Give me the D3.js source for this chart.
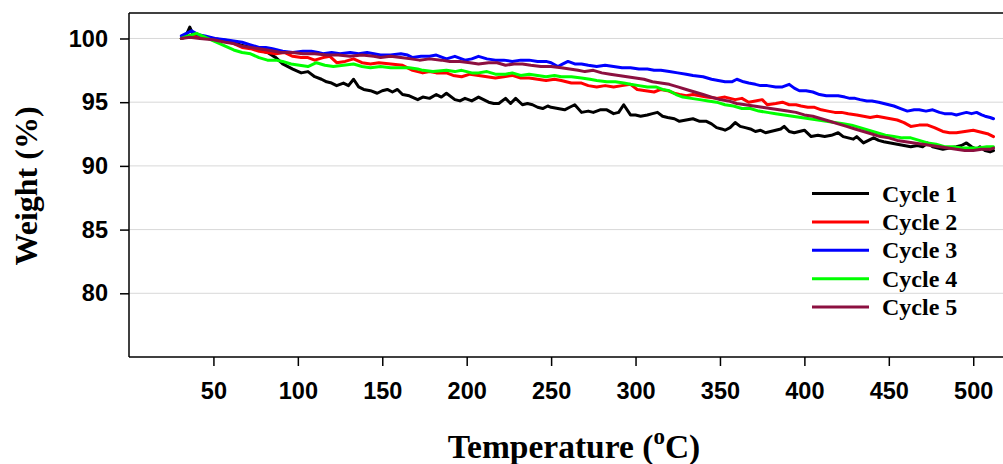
<!DOCTYPE html>
<html>
<head>
<meta charset="utf-8">
<script src="https://cdn.jsdelivr.net/npm/d3@7"></script>
<style>
  html, body { margin: 0; padding: 0; background: #fff; }
  svg { display: block; }
</style>
</head>
<body>
<svg id="chart" width="1003" height="464"></svg>
<script>
// ---- data (temperature °C, weight %) ----
const seriesNames = ["Cycle 1", "Cycle 2", "Cycle 3", "Cycle 4", "Cycle 5"];
const seriesColors = ["#000000", "#ff0000", "#0000ff", "#00ff00", "#8c1040"];
const xTicks = [50, 100, 150, 200, 250, 300, 350, 400, 450, 500];
const yTicks = [80, 85, 90, 95, 100];

const cycle1 = [[31,100.0],[34,100.3],[36,100.9],[38,100.3],[42,100.2],[48,100.0],[55,99.9],[60,99.8],[66,99.5],[72,99.3],[77,99.1],[82,98.9],[87,98.5],[91,98.0],[97,97.6],[102,97.3],[106,97.4],[110,97.0],[114,96.8],[117,96.6],[120,96.5],[123,96.3],[127,96.5],[130,96.3],[133,96.8],[136,96.2],[139,96.0],[143,95.9],[147,95.7],[150,95.9],[153,96.0],[156,95.8],[159,96.0],[162,95.6],[166,95.5],[171,95.2],[174,95.4],[178,95.3],[182,95.6],[185,95.4],[188,95.7],[193,95.2],[196,95.1],[199,95.3],[203,95.1],[207,95.4],[210,95.2],[213,95.0],[216,94.9],[219,94.9],[223,95.3],[226,94.9],[229,95.3],[233,94.8],[236,94.9],[239,94.8],[242,94.6],[245,94.5],[248,94.7],[250,94.6],[254,94.5],[258,94.4],[261,94.6],[264,94.8],[268,94.2],[272,94.3],[275,94.2],[279,94.4],[283,94.4],[287,94.1],[290,94.2],[293,94.8],[297,94.0],[300,94.0],[303,93.9],[307,94.0],[310,94.1],[313,94.2],[316,93.9],[319,93.8],[323,93.7],[326,93.5],[330,93.6],[334,93.7],[338,93.5],[342,93.5],[345,93.3],[348,93.0],[351,92.9],[353,92.8],[356,93.0],[359,93.4],[362,93.1],[365,93.0],[368,92.9],[371,92.7],[374,92.8],[377,92.6],[380,92.7],[383,92.8],[386,92.9],[388,93.1],[391,92.7],[394,92.6],[397,92.7],[400,92.8],[404,92.3],[408,92.4],[412,92.3],[416,92.4],[420,92.6],[423,92.3],[426,92.2],[429,92.1],[431,92.3],[435,91.8],[438,92.0],[441,92.2],[444,92.0],[447,91.9],[451,91.8],[455,91.7],[459,91.6],[463,91.5],[467,91.6],[470,91.5],[473,91.8],[476,91.5],[479,91.4],[482,91.3],[486,91.4],[490,91.5],[493,91.6],[496,91.8],[499,91.5],[502,91.3],[504,91.5],[507,91.2],[510,91.1],[512,91.2]];

const cycle2 = [[31,100.0],[36,100.2],[42,100.1],[50,100.0],[57,99.8],[62,99.6],[67,99.3],[72,99.2],[77,99.0],[82,98.9],[87,98.8],[92,98.9],[97,98.6],[102,98.5],[106,98.5],[110,98.3],[115,98.5],[119,98.6],[123,98.1],[128,98.2],[133,98.4],[138,98.1],[143,98.0],[148,98.1],[155,98.0],[162,97.9],[165,97.7],[168,97.5],[174,97.3],[178,97.4],[182,97.3],[188,97.3],[192,97.1],[197,97.0],[202,97.2],[207,97.1],[212,97.0],[217,96.9],[222,97.0],[227,97.1],[232,96.9],[237,96.9],[242,96.8],[247,96.7],[252,96.8],[256,96.7],[262,96.5],[268,96.5],[272,96.3],[277,96.2],[282,96.3],[287,96.2],[292,96.3],[297,96.4],[301,96.0],[306,95.9],[311,95.8],[315,96.0],[319,95.9],[323,95.7],[326,95.6],[330,95.5],[334,95.6],[338,95.5],[342,95.4],[348,95.3],[353,95.4],[359,95.2],[363,95.3],[367,95.0],[371,95.1],[375,95.2],[378,94.8],[383,94.9],[387,95.0],[391,94.8],[395,94.8],[398,94.7],[402,94.6],[406,94.6],[410,94.4],[414,94.3],[418,94.2],[422,94.2],[426,94.1],[431,94.0],[435,93.9],[439,93.8],[443,93.9],[447,93.8],[451,93.7],[455,93.6],[459,93.4],[463,93.1],[468,93.2],[473,93.2],[477,93.0],[482,92.7],[486,92.6],[490,92.6],[495,92.7],[500,92.8],[503,92.7],[506,92.6],[509,92.5],[512,92.3]];

const cycle3 = [[31,100.2],[34,100.4],[37,100.6],[41,100.3],[45,100.2],[51,100.0],[57,99.9],[62,99.8],[67,99.7],[72,99.5],[77,99.3],[81,99.3],[85,99.2],[91,99.0],[97,98.9],[103,99.0],[108,99.0],[112,98.9],[115,98.8],[120,98.9],[125,98.8],[131,98.9],[136,98.8],[141,98.9],[145,98.8],[149,98.7],[155,98.7],[161,98.8],[165,98.7],[168,98.5],[173,98.6],[178,98.6],[182,98.7],[188,98.4],[193,98.6],[199,98.3],[203,98.4],[207,98.6],[212,98.4],[217,98.3],[222,98.3],[227,98.2],[232,98.3],[237,98.3],[242,98.2],[247,98.2],[250,98.1],[254,97.8],[257,98.0],[260,98.2],[264,98.0],[268,98.0],[272,97.9],[277,97.8],[282,97.9],[287,97.8],[292,97.7],[297,97.7],[302,97.6],[307,97.6],[311,97.5],[315,97.5],[320,97.4],[325,97.3],[330,97.2],[334,97.1],[340,97.0],[345,96.8],[349,96.7],[353,96.6],[357,96.6],[360,96.8],[364,96.6],[367,96.5],[371,96.4],[374,96.3],[378,96.3],[383,96.2],[387,96.2],[391,96.4],[394,96.1],[397,95.9],[401,95.9],[405,95.8],[409,95.6],[413,95.5],[417,95.5],[420,95.5],[424,95.4],[427,95.3],[430,95.3],[433,95.2],[437,95.1],[440,95.1],[444,95.0],[447,94.9],[450,94.8],[453,94.7],[457,94.5],[461,94.3],[465,94.4],[468,94.4],[472,94.3],[476,94.4],[480,94.2],[483,94.1],[487,94.1],[490,94.0],[493,94.1],[496,94.2],[499,94.1],[502,94.2],[505,94.0],[507,93.9],[510,93.8],[512,93.7]];

const cycle4 = [[31,100.0],[35,100.2],[40,100.4],[45,100.1],[52,99.7],[57,99.4],[62,99.1],[67,98.9],[72,98.8],[77,98.5],[82,98.3],[87,98.3],[91,98.2],[96,98.0],[101,97.9],[106,97.8],[111,98.1],[116,97.9],[121,97.8],[127,97.9],[133,98.0],[138,97.8],[143,97.7],[149,97.8],[155,97.7],[161,97.7],[166,97.7],[171,97.6],[174,97.5],[180,97.4],[188,97.5],[193,97.4],[197,97.5],[203,97.3],[207,97.3],[212,97.4],[217,97.2],[223,97.2],[227,97.3],[232,97.1],[237,97.2],[242,97.1],[247,97.0],[252,97.1],[256,97.0],[262,97.0],[268,96.9],[273,96.8],[277,96.7],[283,96.6],[288,96.6],[293,96.5],[297,96.4],[302,96.3],[307,96.2],[312,96.2],[316,96.0],[320,95.9],[324,95.6],[328,95.4],[333,95.3],[338,95.2],[343,95.1],[348,95.0],[353,94.8],[358,94.7],[363,94.5],[368,94.5],[373,94.3],[378,94.2],[383,94.1],[388,94.0],[393,93.9],[398,93.8],[403,93.7],[408,93.6],[413,93.5],[418,93.4],[423,93.3],[428,93.2],[433,93.0],[438,92.8],[443,92.6],[448,92.4],[453,92.3],[458,92.2],[463,92.2],[468,92.0],[473,91.8],[478,91.7],[483,91.5],[488,91.5],[493,91.4],[498,91.4],[503,91.4],[508,91.5],[512,91.5]];

const cycle5 = [[31,100.0],[36,100.1],[42,100.0],[50,99.9],[57,99.7],[62,99.6],[67,99.4],[72,99.3],[77,99.2],[82,99.1],[90,98.9],[97,98.9],[103,98.8],[110,98.8],[117,98.7],[124,98.7],[131,98.6],[138,98.7],[145,98.6],[149,98.5],[155,98.6],[161,98.5],[167,98.4],[172,98.3],[178,98.4],[185,98.3],[190,98.2],[196,98.2],[202,98.1],[207,98.0],[213,98.1],[218,98.1],[223,97.9],[228,98.0],[233,98.0],[238,97.9],[244,97.8],[250,97.8],[256,97.7],[261,97.6],[266,97.5],[270,97.4],[275,97.5],[280,97.3],[285,97.2],[290,97.1],[295,97.0],[300,96.9],[305,96.8],[310,96.6],[315,96.5],[320,96.4],[325,96.2],[330,96.0],[335,95.8],[340,95.6],[345,95.4],[350,95.2],[355,95.1],[360,94.9],[365,94.8],[370,94.7],[375,94.6],[380,94.5],[385,94.4],[390,94.3],[395,94.2],[400,94.0],[405,93.9],[410,93.7],[415,93.5],[420,93.3],[425,93.1],[430,92.9],[435,92.7],[440,92.5],[445,92.3],[450,92.2],[455,92.0],[460,91.9],[465,91.8],[470,91.7],[475,91.6],[480,91.5],[485,91.4],[490,91.3],[495,91.2],[500,91.2],[505,91.3],[510,91.3],[512,91.4]];

const allSeries = [cycle1, cycle2, cycle3, cycle4, cycle5];

// ---- layout ----
const svg = d3.select("#chart");
const plotLeft = 129, plotRight = 1007, plotTop = 13, plotBottom = 357;

const x = d3.scaleLinear().domain([0, 520]).range([plotLeft, plotRight]);
const y = d3.scaleLinear().domain([75, 102]).range([plotBottom, plotTop]);

// gridlines
svg.append("g")
  .selectAll("line")
  .data(yTicks)
  .join("line")
  .attr("x1", plotLeft).attr("x2", plotRight)
  .attr("y1", d => y(d)).attr("y2", d => y(d))
  .attr("stroke", "#d8d8d8")
  .attr("stroke-width", 1);

// top frame line
svg.append("line")
  .attr("x1", plotLeft).attr("x2", plotRight)
  .attr("y1", plotTop).attr("y2", plotTop)
  .attr("stroke", "#000").attr("stroke-width", 1.5);

// lines
const line = d3.line().x(d => x(d[0])).y(d => y(d[1]));
svg.append("g")
  .selectAll("path")
  .data(allSeries)
  .join("path")
  .attr("d", line)
  .attr("fill", "none")
  .attr("stroke", (d, i) => seriesColors[i])
  .attr("stroke-width", 3)
  .attr("stroke-linejoin", "round")
  .attr("stroke-linecap", "round");

// axes
const xAxis = svg.append("g")
  .attr("transform", `translate(0,${plotBottom})`)
  .call(d3.axisBottom(x).tickValues(xTicks).tickSize(9).tickPadding(16).tickSizeOuter(0));
const yAxis = svg.append("g")
  .attr("transform", `translate(${plotLeft},0)`)
  .call(d3.axisLeft(y).tickValues(yTicks).tickSize(9).tickPadding(12).tickSizeOuter(0));

[xAxis, yAxis].forEach(a => {
  a.select(".domain").attr("stroke", "#000").attr("stroke-width", 1.5);
  a.selectAll(".tick line").attr("stroke", "#000").attr("stroke-width", 1.5);
  a.selectAll(".tick text")
    .attr("fill", "#000")
    .style("font-family", "'Liberation Sans', Arial, sans-serif")
    .style("font-weight", "bold")
    .style("font-size", "23.5px");
});
yAxis.select(".domain").attr("d", `M0,${plotBottom}V${plotTop}`);
xAxis.select(".domain").attr("d", `M${plotLeft},0H${plotRight}`);

// axis titles
svg.append("text")
  .attr("transform", "translate(37,186) rotate(-90)")
  .attr("text-anchor", "middle")
  .style("font-family", "'Liberation Serif', 'Times New Roman', serif")
  .style("font-weight", "bold")
  .style("font-size", "32px")
  .text("Weight (%)");

const xt = svg.append("text")
  .attr("x", 574).attr("y", 458)
  .attr("text-anchor", "middle")
  .style("font-family", "'Liberation Serif', 'Times New Roman', serif")
  .style("font-weight", "bold")
  .style("font-size", "33.5px");
xt.append("tspan").text("Temperature (");
xt.append("tspan").attr("dy", -14).style("font-size", "23px").text("o");
xt.append("tspan").attr("dy", 14).text("C)");

// legend
const legend = svg.append("g");
const legRows = legend.selectAll("g")
  .data(seriesNames)
  .join("g")
  .attr("transform", (d, i) => `translate(0,${193.5 + i * 28.4})`);
legRows.append("line")
  .attr("x1", 812).attr("x2", 869)
  .attr("y1", 0).attr("y2", 0)
  .attr("stroke", (d, i) => seriesColors[i])
  .attr("stroke-width", 3);
legRows.append("text")
  .attr("x", 882).attr("y", 8)
  .style("font-family", "'Liberation Serif', 'Times New Roman', serif")
  .style("font-weight", "bold")
  .style("font-size", "24px")
  .text(d => d);
</script>
</body>
</html>
